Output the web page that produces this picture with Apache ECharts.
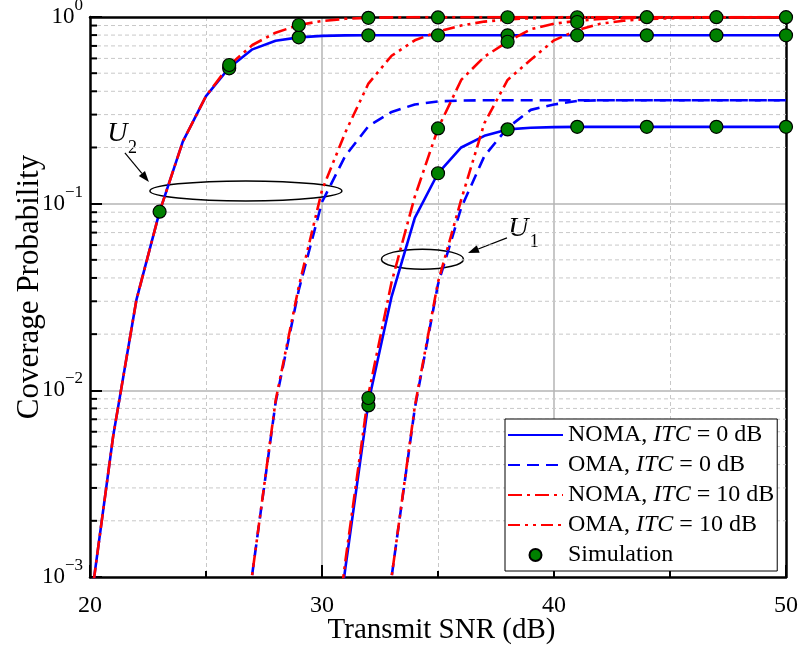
<!DOCTYPE html>
<html>
<head>
<meta charset="utf-8">
<script src="https://cdn.jsdelivr.net/npm/echarts@6/dist/echarts.min.js"></script>
<style>
html, body { margin: 0; padding: 0; background: #fff; }
#main { width: 800px; height: 662px; }
</style>
</head>
<body>
<div id="main"></div>
<script>
// transmit SNR (dB)
var snr = [20, 21, 22, 23, 24, 25, 26, 27, 28, 29, 30, 31, 32, 33, 34, 35,
           36, 37, 38, 39, 40, 41, 42, 43, 44, 45, 46, 47, 48, 49, 50];

// analytical curves, U2 (left group)
var u2Noma0  = [0.00068, 0.0057, 0.0305, 0.0906, 0.215, 0.377, 0.535, 0.671, 0.746, 0.778, 0.792, 0.797,
                0.798, 0.798, 0.798, 0.798, 0.798, 0.798, 0.798, 0.798, 0.798, 0.798, 0.798, 0.798, 0.798,
                0.798, 0.798, 0.798, 0.798, 0.798, 0.798];
var u2Noma10 = [0.00068, 0.0057, 0.0305, 0.0906, 0.215, 0.377, 0.55, 0.708, 0.824, 0.906, 0.952, 0.978,
                0.99, 0.995, 0.998, 0.998, 0.998, 0.998, 0.998, 0.998, 0.998, 0.998, 0.998, 0.998, 0.998,
                0.998, 0.998, 0.998, 0.998, 0.998, 0.998];
var u2Oma0   = [null, null, null, null, null, null, 0.0001, 0.00105, 0.0086, 0.0345, 0.102, 0.18,
                0.26, 0.31, 0.34, 0.353, 0.357, 0.358, 0.358, 0.358, 0.358, 0.358, 0.358, 0.358, 0.358,
                0.358, 0.358, 0.358, 0.358, 0.358, 0.358];
var u2Oma10  = [null, null, null, null, null, null, 0.0001, 0.00105, 0.0088, 0.036, 0.118, 0.24,
                0.44, 0.62, 0.75, 0.835, 0.9, 0.945, 0.97, 0.985, 0.992, 0.996, 0.996, 0.996, 0.996,
                0.996, 0.996, 0.996, 0.996, 0.996, 0.996];

// analytical curves, U1 (right group)
var u1Noma0  = [null, null, null, null, null, null, null, null, null, null, 0.00012, 0.0011,
                0.0086, 0.0318, 0.084, 0.1455, 0.2, 0.231, 0.25, 0.255, 0.257, 0.258, 0.258, 0.258, 0.258,
                0.258, 0.258, 0.258, 0.258, 0.258, 0.258];
var u1Noma10 = [null, null, null, null, null, null, null, null, null, null, 0.00012, 0.0012,
                0.0095, 0.038, 0.109, 0.253, 0.46, 0.613, 0.737, 0.86, 0.92, 0.955, 0.975, 0.985, 0.99,
                0.994, 0.997, 0.997, 0.997, 0.997, 0.997];
var u1Oma0   = [null, null, null, null, null, null, null, null, null, null, null, null,
                0.0001, 0.001, 0.008, 0.037, 0.095, 0.18, 0.255, 0.318, 0.34, 0.355, 0.358, 0.358, 0.358,
                0.358, 0.358, 0.358, 0.358, 0.358, 0.358];
var u1Oma10  = [null, null, null, null, null, null, null, null, null, null, null, null,
                0.0001, 0.001, 0.0082, 0.038, 0.105, 0.27, 0.46, 0.59, 0.75, 0.85, 0.92, 0.955, 0.975,
                0.985, 0.99, 0.994, 0.996, 0.996, 0.996];

// simulation points [snr, probability]
var simU2Noma0  = [[23, 0.0906], [26, 0.531], [29, 0.778], [32, 0.798], [35, 0.798], [38, 0.798],
                   [41, 0.798], [44, 0.798], [47, 0.798], [50, 0.798]];
var simU2Noma10 = [[26, 0.553], [29, 0.906], [32, 0.99], [35, 0.995], [38, 0.997], [41, 0.997],
                   [44, 0.998], [47, 0.998], [50, 0.998]];
var simU1Noma0  = [[32, 0.0083], [35, 0.1455], [38, 0.25], [41, 0.258], [44, 0.258], [47, 0.258], [50, 0.258]];
var simU1Noma10 = [[32, 0.0091], [35, 0.253], [38, 0.737], [41, 0.94]];

// minor gridlines of the log axis
var minorY = [0.002, 0.003, 0.004, 0.005, 0.006, 0.007, 0.008, 0.009,
              0.02, 0.03, 0.04, 0.05, 0.06, 0.07, 0.08, 0.09,
              0.2, 0.3, 0.4, 0.5, 0.6, 0.7, 0.8, 0.9];

var lineNames = ['NOMA, ITC = 0 dB', 'OMA, ITC = 0 dB', 'NOMA, ITC = 10 dB', 'OMA, ITC = 10 dB'];
var simName = 'Simulation';

var FONT = '"Liberation Serif", "Times New Roman", serif';

var chart = echarts.init(document.getElementById('main'));

function pairs(ys) {
  var out = [];
  for (var i = 0; i < snr.length; i++) {
    out.push([snr[i], ys[i] == null ? '-' : ys[i]]);
  }
  return out;
}

function lineSeries(name, ys, color, dash) {
  return {
    name: name,
    type: 'line',
    data: pairs(ys),
    symbol: 'none',
    color: color,
    lineStyle: { color: color, width: 2.6, type: dash },
    z: 3
  };
}

function renderMinor(params, api) {
  var cs = params.coordSys;
  var y = api.coord([api.value(0), api.value(1)])[1];
  return {
    type: 'group',
    children: [
      { type: 'line', shape: { x1: cs.x, y1: y, x2: cs.x + cs.width, y2: y },
        style: { stroke: '#c8c8c8', lineWidth: 1, lineDash: [4, 3] } },
      { type: 'line', shape: { x1: cs.x, y1: y, x2: cs.x + 7, y2: y },
        style: { stroke: '#000', lineWidth: 2 } }
    ]
  };
}

var expMap = { '1': '0', '0.1': '\u22121', '0.01': '\u22122', '0.001': '\u22123' };

// legend: line entries without the dot in the middle
var legendData = lineNames.map(function (n) {
  return { name: n, itemStyle: { opacity: 0 } };
});
legendData.push({ name: simName });

chart.setOption({
  animation: false,
  backgroundColor: '#fff',
  textStyle: { fontFamily: FONT, color: '#000' },
  grid: { left: 90, right: 14, top: 17, bottom: 85, containLabel: false, outerBoundsMode: 'none' },
  legend: {
    data: legendData,
    orient: 'vertical',
    left: 505,
    top: 419,
    padding: [4, 3, 4, 2],
    itemWidth: 55,
    itemHeight: 12,
    itemGap: 6,
    backgroundColor: '#fff',
    borderColor: '#000',
    borderWidth: 1,
    borderRadius: 0,
    formatter: function (name) {
      return name.replace('ITC', '{i|ITC}');
    },
    textStyle: {
      fontFamily: FONT, fontSize: 24, lineHeight: 24, color: '#000',
      rich: { i: { fontFamily: FONT, fontSize: 24, fontStyle: 'italic', color: '#000' } }
    },
    z: 10
  },
  xAxis: [{
    type: 'value',
    min: 20, max: 50, interval: 10,
    name: 'Transmit SNR (dB)',
    nameLocation: 'middle',
    nameGap: 39,
    nameMoveOverlap: false,
    nameTextStyle: { fontFamily: FONT, fontSize: 29, color: '#000', padding: [0, 0, 0, 7] },
    axisLine: { show: true, lineStyle: { color: '#000', width: 2.5 } },
    axisTick: { show: true, inside: true, length: 12, lineStyle: { color: '#000', width: 2 } },
    minorTick: { show: true, splitNumber: 2, length: 6, lineStyle: { color: '#000', width: 2 } },
    axisLabel: { fontFamily: FONT, fontSize: 24, color: '#000', margin: 17 },
    splitLine: { show: true, showMinLine: false, showMaxLine: false,
                 lineStyle: { color: '#b4b4b4', width: 1.5 } },
    minorSplitLine: { show: true, lineStyle: { color: '#c8c8c8', width: 1, type: [4, 3] } }
  }, {
    type: 'value', position: 'top', min: 20, max: 50,
    axisLine: { show: true, lineStyle: { color: '#000', width: 2.5 } },
    axisTick: { show: false }, axisLabel: { show: false }, splitLine: { show: false }
  }],
  yAxis: [{
    type: 'log',
    logBase: 10,
    min: 0.001, max: 1,
    name: 'Coverage Probability',
    nameLocation: 'middle',
    nameGap: 45,
    nameMoveOverlap: false,
    nameTextStyle: { fontFamily: FONT, fontSize: 31, color: '#000', padding: [0, 0, 0, 20] },
    axisLine: { show: true, lineStyle: { color: '#000', width: 2.5 } },
    axisTick: { show: true, inside: true, length: 12, lineStyle: { color: '#000', width: 2 } },
    axisLabel: {
      margin: 7,
      formatter: function (v) {
        var e = expMap[String(v)];
        if (e == null) e = String(Math.round(Math.log(v) / Math.LN10));
        return '{b|10}{s|' + e + '}';
      },
      rich: {
        b: { fontFamily: FONT, fontSize: 23, lineHeight: 40, color: '#000' },
        s: { fontFamily: FONT, fontSize: 17, verticalAlign: 'top', color: '#000' }
      }
    },
    splitLine: { show: true, showMinLine: false, showMaxLine: false,
                 lineStyle: { color: '#b4b4b4', width: 1.5 } }
  }, {
    type: 'value', position: 'right', min: 0, max: 1,
    axisLine: { show: true, lineStyle: { color: '#000', width: 2.5 } },
    axisTick: { show: false }, axisLabel: { show: false }, splitLine: { show: false }
  }],
  series: [
    {
      type: 'custom',
      renderItem: renderMinor,
      data: minorY.map(function (v) { return [20, v]; }),
      encode: { x: 0, y: 1 },
      silent: true,
      z: 1
    },
    lineSeries(lineNames[0], u2Noma0, '#0000ff', 'solid'),
    lineSeries(lineNames[0], u1Noma0, '#0000ff', 'solid'),
    lineSeries(lineNames[1], u2Oma0, '#0000ff', [12, 7]),
    lineSeries(lineNames[1], u1Oma0, '#0000ff', [12, 7]),
    lineSeries(lineNames[2], u2Noma10, '#ff0000', [14, 5, 3, 5]),
    lineSeries(lineNames[2], u1Noma10, '#ff0000', [14, 5, 3, 5]),
    lineSeries(lineNames[3], u2Oma10, '#ff0000', [12, 5, 3, 5, 3, 5]),
    lineSeries(lineNames[3], u1Oma10, '#ff0000', [12, 5, 3, 5, 3, 5]),
    {
      name: simName,
      type: 'scatter',
      data: [].concat(simU2Noma0, simU2Noma10, simU1Noma0, simU1Noma10),
      symbol: 'circle',
      symbolSize: 13,
      clip: false,
      itemStyle: { color: '#008000', borderColor: '#000', borderWidth: 1.2, opacity: 1 },
      z: 5
    }
  ]
});

// U1 / U2 annotations: ellipse + arrow + label, anchored on data coordinates
function arrowParts(x1, y1, x2, y2) {
  var ang = Math.atan2(y2 - y1, x2 - x1);
  var L = 11, W = 4;
  var bx = x2 - L * Math.cos(ang), by = y2 - L * Math.sin(ang);
  var nx = -Math.sin(ang) * W, ny = Math.cos(ang) * W;
  return [
    { type: 'line', shape: { x1: x1, y1: y1, x2: bx, y2: by }, style: { stroke: '#000', lineWidth: 1.2 } },
    { type: 'polygon', shape: { points: [[x2, y2], [bx + nx, by + ny], [bx - nx, by - ny]] }, style: { fill: '#000' } }
  ];
}

function annotation(anchor, rx, arrow, uPos, subPos, sub) {
  var c = chart.convertToPixel({ xAxisIndex: 0, yAxisIndex: 0 }, anchor);
  var els = [
    { type: 'ellipse', shape: { cx: c[0], cy: c[1], rx: rx, ry: 10 },
      style: { fill: 'none', stroke: '#000', lineWidth: 1.5 } }
  ];
  els = els.concat(arrowParts(c[0] + arrow[0], c[1] + arrow[1], c[0] + arrow[2], c[1] + arrow[3]));
  els.push({ type: 'text', style: { text: 'U', x: c[0] + uPos[0], y: c[1] + uPos[1],
    font: 'italic 28px ' + FONT, fill: '#000', align: 'center', verticalAlign: 'middle' } });
  els.push({ type: 'text', style: { text: sub, x: c[0] + subPos[0], y: c[1] + subPos[1],
    font: '18px ' + FONT, fill: '#000', align: 'center', verticalAlign: 'middle' } });
  return { type: 'group', z: 20, children: els };
}

chart.setOption({
  graphic: [
    annotation([26.72, 0.117], 96, [-121, -38, -97, -9], [-128.5, -57.7], [-113.5, -42.7], '2'),
    annotation([34.33, 0.0504], 41, [84.5, -21.3, 45.5, -6.3], [95.8, -31], [111.7, -16.8], '1')
  ]
});
</script>
</body>
</html>
